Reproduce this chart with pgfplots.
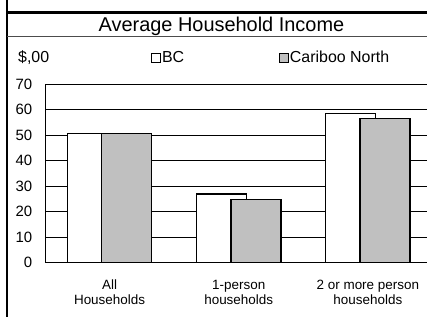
\documentclass[border=0pt]{standalone}
\usepackage{fontspec}
\setmainfont{Liberation Sans}
\usepackage{pgfplots}
\pgfplotsset{compat=1.18}
\definecolor{cngray}{RGB}{192,192,192}
\begin{document}
\begin{tikzpicture}
\useasboundingbox (0,0) rectangle (427bp,317bp);
\begin{axis}[
  at={(45bp,54.7bp)}, anchor=south west,
  scale only axis, width=382bp, height=178bp,
  xmin=-0.5, xmax=2.458, ymin=0, ymax=70,
  axis x line*=bottom, axis y line*=left,
  axis line style={black, line width=0.8bp},
  ytick={0,10,...,70},
  ymajorgrids, grid style={black, line width=0.7bp},
  major tick length=0pt,
  /pgf/number format/assume math mode=true,
  yticklabel style={font=\fontsize{15}{17}\selectfont, inner sep=0pt, xshift=-12.5bp},
  xtick={0,1,2},
  xticklabels={{All\\Households},{1-person\\households},{2 or more person\\households}},
  xticklabel style={font=\fontsize{13.5}{15.3}\selectfont, align=center, inner sep=0pt, anchor=north, yshift=-17.5bp},
  title={Average Household Income},
  every axis title/.style={at={(axis description cs:0.462,1.299)}, anchor=base, font=\fontsize{20}{24}\selectfont, inner sep=0pt},
  ylabel={\$,00},
  ylabel style={rotate=-90, at={(axis description cs:-0.0707,1.121)}, anchor=base west, font=\fontsize{16}{19}\selectfont, inner sep=0pt},
  legend columns=2,
  legend style={at={(axis description cs:0.2775,1.149)}, anchor=west, draw=none, fill=none, inner sep=0pt,
    font=\fontsize{16}{19}\selectfont, nodes={inner sep=0pt},
    /tikz/every odd column/.append style={column sep=1bp},
    /tikz/every even column/.append style={column sep=95bp}},
]
\addplot[ybar, bar width=50bp, bar shift=-17.2bp, fill=white, draw=black, line width=1.3bp,
  legend image code/.code={\draw[fill=white, draw=black, line width=0.8bp] (0bp,-4.5bp) rectangle (9bp,4.5bp);}]
  coordinates {(0,50.7) (1,26.9) (2,58.6)};
\addplot[ybar, bar width=50bp, bar shift=17.2bp, fill=cngray, draw=black, line width=1.3bp,
  legend image code/.code={\draw[fill=cngray, draw=black, line width=0.8bp] (0bp,-4.5bp) rectangle (9bp,4.5bp);}]
  coordinates {(0,50.7) (1,24.8) (2,56.6)};
\legend{BC, Cariboo North}
\end{axis}
\draw[line width=2bp] (7bp,0) -- (7bp,317bp);
\draw[line width=2.2bp] (6bp,304.5bp) -- (427bp,304.5bp);
\draw[line width=0.8bp, black!70] (7bp,281bp) -- (427bp,281bp);
\end{tikzpicture}
\end{document}
